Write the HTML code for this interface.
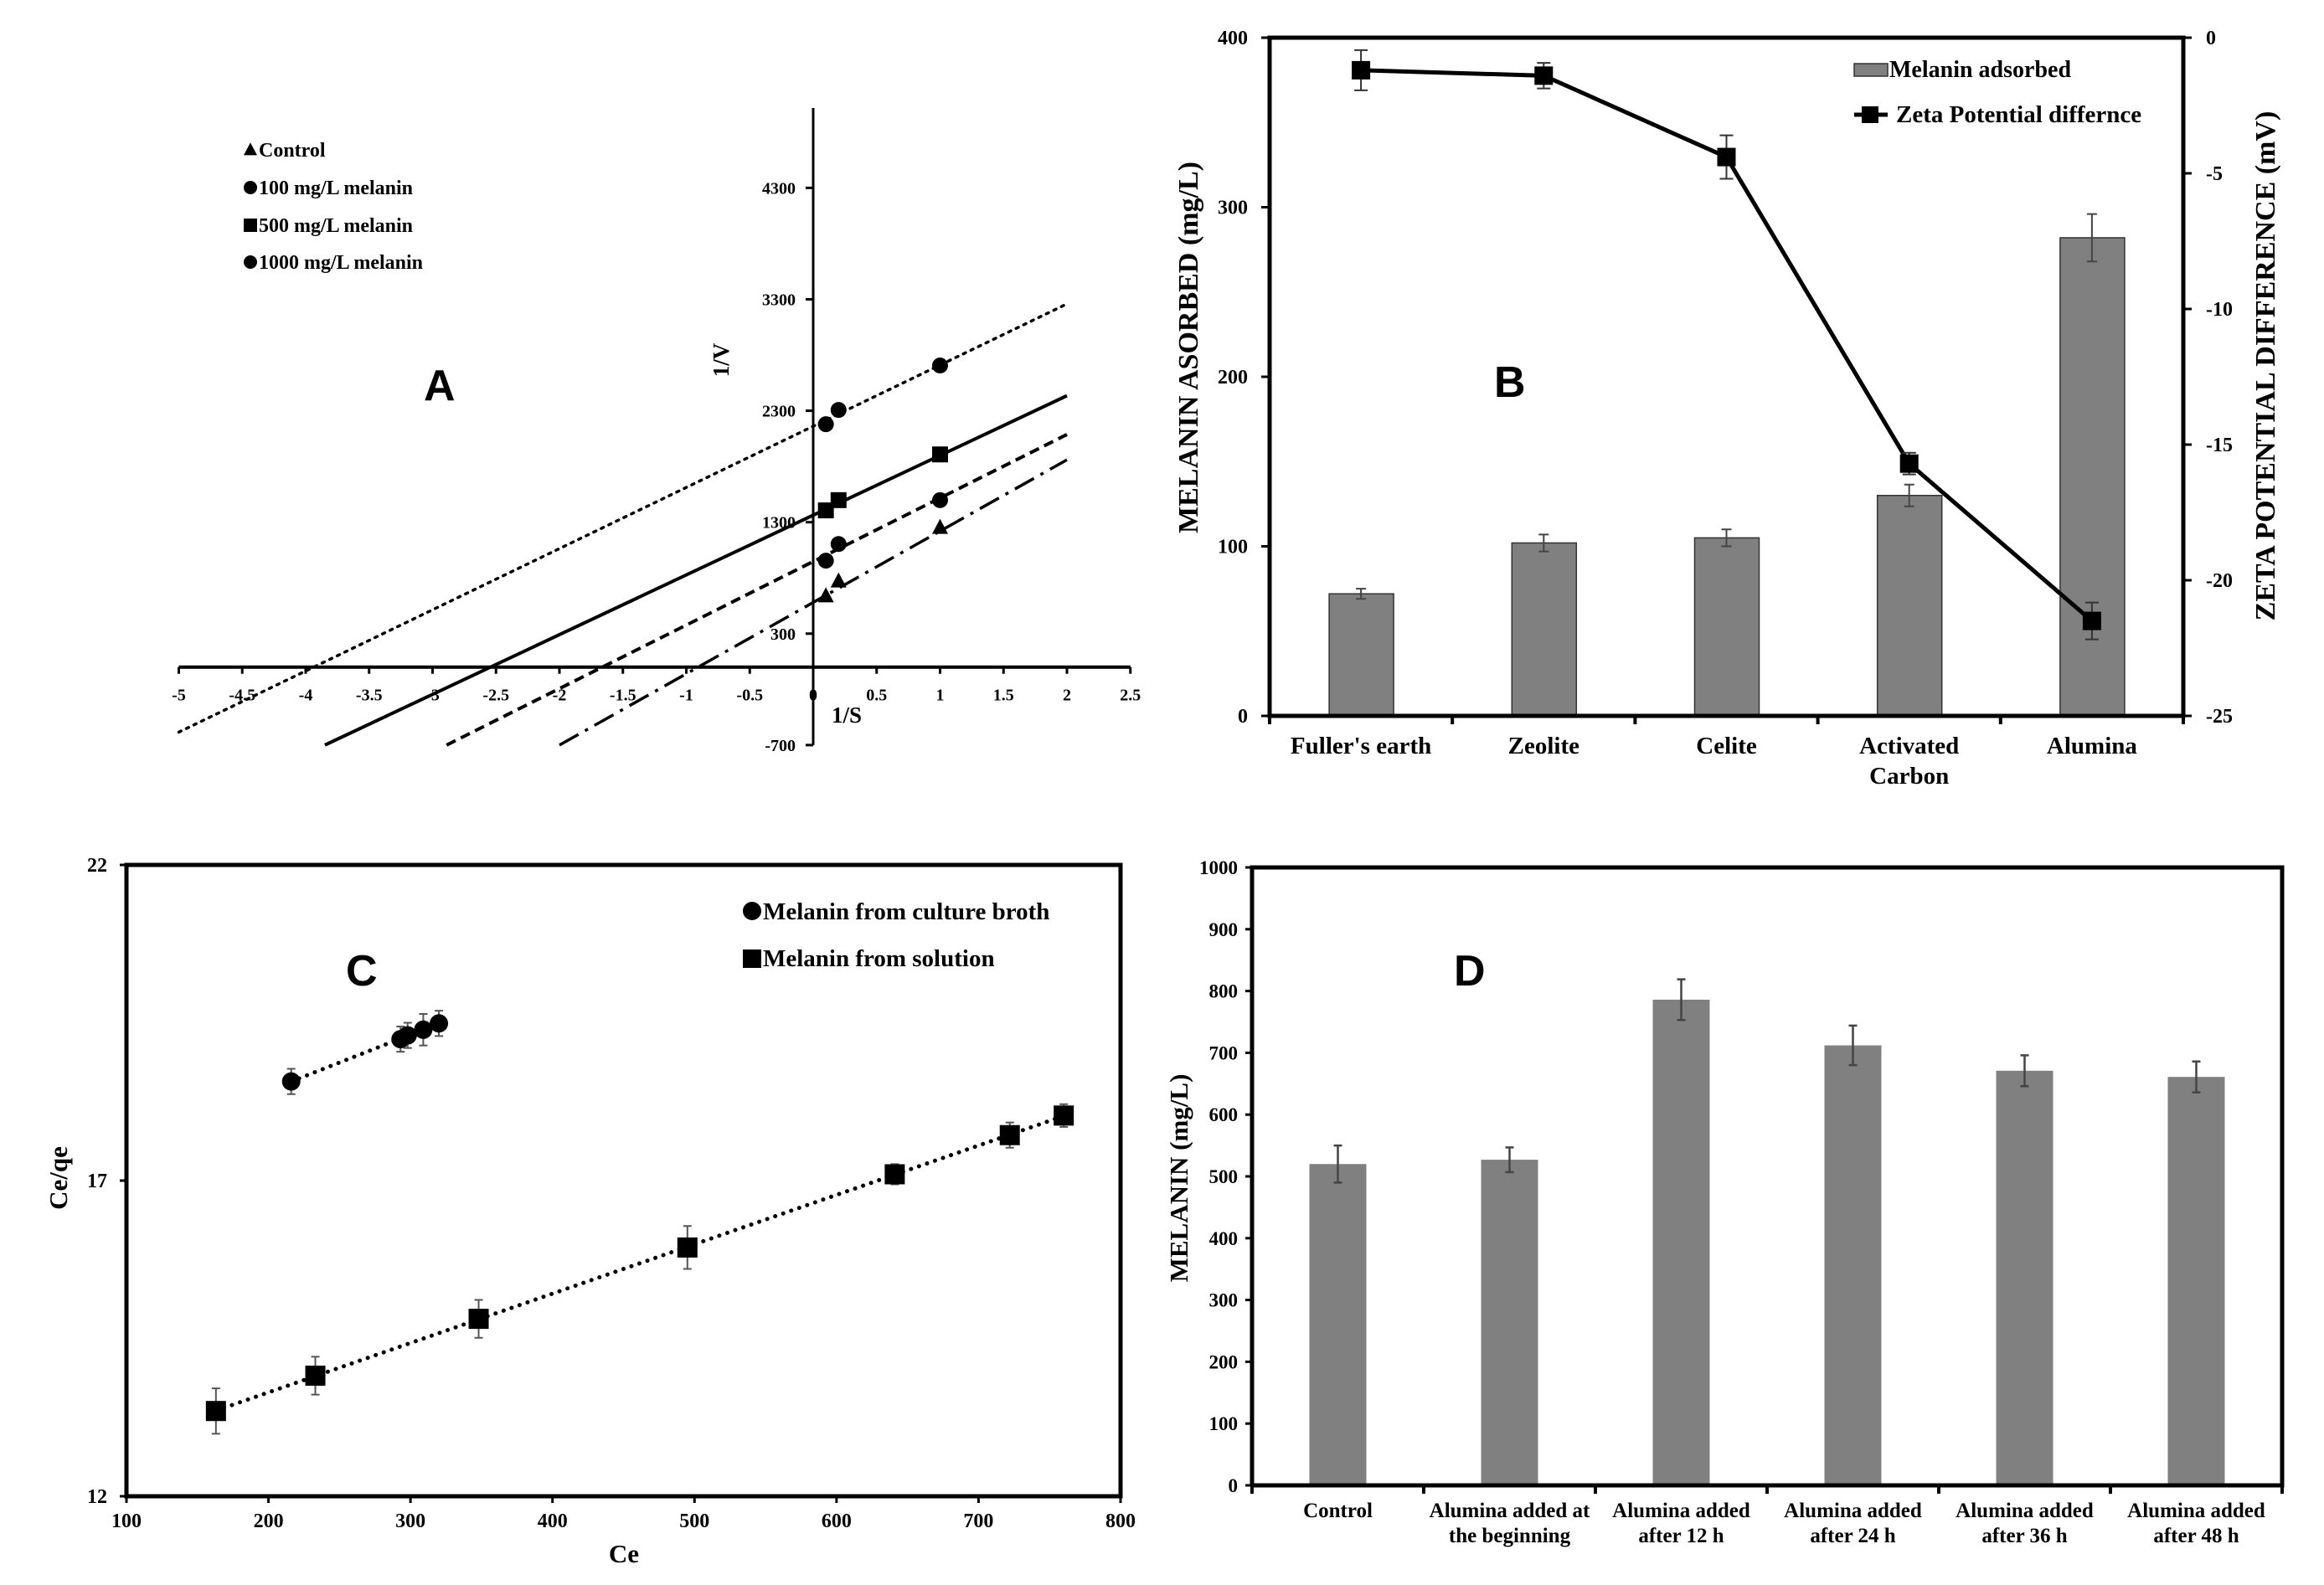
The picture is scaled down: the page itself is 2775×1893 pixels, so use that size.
<!DOCTYPE html>
<html><head><meta charset="utf-8"><style>
html,body{margin:0;padding:0;background:#fff;overflow:hidden;}
svg{display:block;}
text{font-family:"Liberation Serif",serif;font-weight:bold;fill:#000;}
.big{font-family:"Liberation Sans",sans-serif;font-weight:bold;}
</style></head><body>
<svg id="s" width="2775" height="1893" viewBox="0 0 2775 1893" xmlns="http://www.w3.org/2000/svg">
<rect width="2775" height="1893" fill="#fff"/>
<g id="pa"></g>
<g id="pb"></g>
<g id="pc"></g>
<g id="pd"></g>
</svg>
<script>
// ---------- Panel A data ----------
const aXTicks = [-5,-4.5,-4,-3.5,-3,-2.5,-2,-1.5,-1,-0.5,0,0.5,1,1.5,2,2.5];
const aYTicks = [4300,3300,2300,1300,300,-700];
const aSeriesNames = ["Control","100 mg/L melanin","500 mg/L melanin","1000 mg/L melanin"];
const aPointX = [0.1,0.2,1];
const aControl = [638,771,1252];
const a100 = [955,1104,1498];
const a500 = [1406,1498,1908];
const a1000 = [2179,2307,2706];
const aSlopes = [640,570,536,549];
const aIntercepts = [580,947,1363,2161];
// ---------- Panel B data ----------
const bCats = ["Fuller's earth","Zeolite","Celite","Activated|Carbon","Alumina"];
const bBars = [72,102,105,130,282];
const bBarErr = [3,5,5,6.4,14];
const bZeta = [-1.2,-1.4,-4.4,-15.7,-21.5];
const bZetaErr = [0.74,0.47,0.8,0.4,0.68];
const bLeftTicks = [0,100,200,300,400];
const bRightTicks = [0,-5,-10,-15,-20,-25];
// ---------- Panel C data ----------
const cBrothX = [216,293,298,309,320];
const cBrothY = [18.57,19.24,19.30,19.39,19.49];
const cBrothErr = [0.2,0.2,0.2,0.25,0.2];
const cSolX = [163,233,348,495,641,722,760];
const cSolY = [13.35,13.91,14.81,15.94,17.10,17.72,18.03];
const cSolErr = [0.36,0.3,0.3,0.34,0.16,0.2,0.18];
const cXTicks = [100,200,300,400,500,600,700,800];
const cYTicks = [12,17,22];
// ---------- Panel D data ----------
const dCats = ["Control","Alumina added at|the beginning","Alumina added|after 12 h","Alumina added|after 24 h","Alumina added|after 36 h","Alumina added|after 48 h"];
const dVals = [520,527,786,712,671,661];
const dErr = [30,20,33,32,25,25];
const dTicks = [0,100,200,300,400,500,600,700,800,900,1000];

const NS="http://www.w3.org/2000/svg";
function el(parent,tag,attrs,txt){const e=document.createElementNS(NS,tag);for(const k in attrs)e.setAttribute(k,attrs[k]);if(txt!==undefined)e.textContent=txt;parent.appendChild(e);return e;}

// ================= PANEL A =================
(function(){
const g=document.getElementById('pa');
const X=v=>971+v*151.5, Y=v=>796.7-v*0.1331;
let e;
e=el(g,'line',{x1:X(-5),y1:Y(0),x2:X(2.5),y2:Y(0),stroke:'#000','stroke-width':4});


e=el(g,'line',{x1:971,y1:129,x2:971,y2:Y(-700),stroke:'#000','stroke-width':3});


aXTicks.forEach(t=>{
 el(g,'line',{x1:X(t),y1:Y(0),x2:X(t),y2:Y(0)+8,stroke:'#000','stroke-width':3});
 e=el(g,'text',{x:X(t),y:Y(0)+40,'font-size':20,'text-anchor':'middle'},String(t));
 
 
});
aYTicks.forEach(t=>{
 el(g,'line',{x1:971,y1:Y(t),x2:962,y2:Y(t),stroke:'#000','stroke-width':3});
 e=el(g,'text',{x:950,y:Y(t)+7,'font-size':20,'text-anchor':'end'},String(t));
 
 
});
e=el(g,'text',{x:993,y:863,'font-size':27},'1/S');


e=el(g,'text',{x:0,y:0,'font-size':27,'text-anchor':'middle',transform:'translate(870,430) rotate(-90)'},'1/V');


e=el(g,'text',{x:506,y:478,'font-size':52,class:'big'},'A');


const dashes=['26,9,4,9','12,7','','3,7'];
const widths=[3.5,4,4,3.5];
const starts=[-2.0,-2.9,-3.85,-5];
for(let i=0;i<4;i++){
 let x0=starts[i];
 const y0=aSlopes[i]*x0+aIntercepts[i];
 if(y0<-700) x0=(-700-aIntercepts[i])/aSlopes[i];
 const x1=2;
 e=el(g,'line',{x1:X(x0),y1:Y(aSlopes[i]*x0+aIntercepts[i]),x2:X(x1),y2:Y(aSlopes[i]*x1+aIntercepts[i]),stroke:'#000','stroke-width':widths[i],'stroke-dasharray':dashes[i],'stroke-linecap':i==3?'round':'butt'});
 
 
}
const series=[aControl,a100,a500,a1000], shapes=['tri','circ','sq','circ'];
function marker(gg,shape,cx,cy,s){
 if(shape==='circ') return el(gg,'circle',{cx:cx,cy:cy,r:s,fill:'#000'});
 if(shape==='sq') return el(gg,'rect',{x:cx-s,y:cy-s,width:2*s,height:2*s,fill:'#000'});
 return el(gg,'polygon',{points:`${cx},${cy-s*1.1} ${cx-s},${cy+s*0.8} ${cx+s},${cy+s*0.8}`,fill:'#000'});
}
series.forEach((arr,i)=>{arr.forEach((v,j)=>{
 e=marker(g,shapes[i],X(aPointX[j]),Y(v),9.5);
 
 
});});
const ly=[179,224,269,313];
aSeriesNames.forEach((n,i)=>{
 e=marker(g,shapes[i],299,ly[i],8);
 
 
 e=el(g,'text',{x:309,y:ly[i]+8,'font-size':24},n);
 
 
});
})();

// ================= PANEL B =================
(function(){
const g=document.getElementById('pb');
const L=1516,R=2607,T=45,B=855;
const YL=v=>B-v/400*(B-T), YR=v=>T+(-v)/25*(B-T);
const n=bCats.length, cw=(R-L)/n, CX=i=>L+cw*(i+0.5);
let e;
bBars.forEach((v,i)=>{
 e=el(g,'rect',{x:CX(i)-38,y:YL(v),width:77,height:B-YL(v),fill:'#808080',stroke:'#333','stroke-width':1.5});
 
 
 const ey1=YL(v+bBarErr[i]), ey2=YL(v-bBarErr[i]);
 el(g,'path',{d:`M${CX(i)},${ey1}V${ey2}M${CX(i)-6},${ey1}H${CX(i)+6}M${CX(i)-6},${ey2}H${CX(i)+6}`,stroke:'#444','stroke-width':2,fill:'none'});
});
el(g,'rect',{x:L,y:T,width:R-L,height:B-T,fill:'none',stroke:'#000','stroke-width':5});
bLeftTicks.forEach(t=>{
 el(g,'line',{x1:L,y1:YL(t),x2:L-10,y2:YL(t),stroke:'#000','stroke-width':3});
 e=el(g,'text',{x:1490,y:YL(t)+8,'font-size':24,'text-anchor':'end'},String(t));
 
 
});
bRightTicks.forEach(t=>{
 el(g,'line',{x1:R,y1:YR(t),x2:R+10,y2:YR(t),stroke:'#000','stroke-width':3});
 e=el(g,'text',{x:2634,y:YR(t)+8,'font-size':24},String(t));
 
 
});
for(let i=0;i<=n;i++) el(g,'line',{x1:L+cw*i,y1:B,x2:L+cw*i,y2:B+10,stroke:'#000','stroke-width':4});
bCats.forEach((c,i)=>{
 const parts=c.split('|');
 parts.forEach((p,k)=>{
  e=el(g,'text',{x:CX(i),y:900+k*36,'font-size':29,'text-anchor':'middle'},p);
  
  
 });
});
let d='';
bZeta.forEach((v,i)=>{d+=(i?'L':'M')+CX(i)+','+YR(v);});
e=el(g,'path',{d:d,stroke:'#000','stroke-width':5,fill:'none'});


bZeta.forEach((v,i)=>{
 const ey1=YR(v+bZetaErr[i]), ey2=YR(v-bZetaErr[i]);
 el(g,'path',{d:`M${CX(i)},${ey1}V${ey2}M${CX(i)-8},${ey1}H${CX(i)+8}M${CX(i)-8},${ey2}H${CX(i)+8}`,stroke:'#333','stroke-width':2,fill:'none'});
 e=el(g,'rect',{x:CX(i)-11,y:YR(v)-11,width:22,height:22,fill:'#000'});
 
 
});
e=el(g,'text',{x:0,y:0,'font-size':34,'text-anchor':'middle',transform:'translate(1430,415) rotate(-90)'},'MELANIN ASORBED (mg/L)');


e=el(g,'text',{x:0,y:0,'font-size':34,'text-anchor':'middle',transform:'translate(2716,437) rotate(-90)'},'ZETA POTENTIAL DIFFERENCE  (mV)');


e=el(g,'rect',{x:2214,y:76,width:40,height:15,fill:'#808080',stroke:'#333','stroke-width':1.5});


e=el(g,'text',{x:2256,y:92,'font-size':28},'Melanin adsorbed');


el(g,'line',{x1:2214,y1:137,x2:2254,y2:137,stroke:'#000','stroke-width':5});
el(g,'rect',{x:2223,y:127,width:20,height:20,fill:'#000'});
e=el(g,'text',{x:2264,y:146,'font-size':29},'Zeta Potential differnce');


e=el(g,'text',{x:1784,y:474,'font-size':52,class:'big'},'B');


})();

// ================= PANEL C =================
(function(){
const g=document.getElementById('pc');
const L=151,R=1338,T=1033,B=1787;
const X=v=>L+(v-100)/700*(R-L), Y=v=>B-(v-12)/10*(B-T);
let e;
el(g,'rect',{x:L,y:T,width:R-L,height:B-T,fill:'none',stroke:'#000','stroke-width':5});
cXTicks.forEach(t=>{
 el(g,'line',{x1:X(t),y1:B,x2:X(t),y2:B+8,stroke:'#000','stroke-width':3});
 e=el(g,'text',{x:X(t),y:B+37,'font-size':24,'text-anchor':'middle'},String(t));
 
 
});
cYTicks.forEach(t=>{
 el(g,'line',{x1:L,y1:Y(t),x2:L-8,y2:Y(t),stroke:'#000','stroke-width':3});
 e=el(g,'text',{x:128,y:Y(t)+8,'font-size':24,'text-anchor':'end'},String(t));
 
 
});
function fit(xs,ys){const n=xs.length;const mx=xs.reduce((a,b)=>a+b)/n,my=ys.reduce((a,b)=>a+b)/n;let sxy=0,sxx=0;xs.forEach((x,i)=>{sxy+=(x-mx)*(ys[i]-my);sxx+=(x-mx)**2;});const m=sxy/sxx;return [m,my-m*mx];}
[[cBrothX,cBrothY,cBrothErr,'circ'],[cSolX,cSolY,cSolErr,'sq']].forEach((s,si)=>{
 const [xs,ys,er,sh]=s;const [m,b]=fit(xs,ys);
 const x0=Math.min(...xs),x1=Math.max(...xs);
 e=el(g,'line',{x1:X(x0),y1:Y(m*x0+b),x2:X(x1),y2:Y(m*x1+b),stroke:'#000','stroke-width':5,'stroke-dasharray':'0.1,10','stroke-linecap':'round'});
 
 
 xs.forEach((x,i)=>{
  const cx=X(x),y1=Y(ys[i]+er[i]),y2=Y(ys[i]-er[i]);
  el(g,'path',{d:`M${cx},${y1}V${y2}M${cx-5},${y1}H${cx+5}M${cx-5},${y2}H${cx+5}`,stroke:'#555','stroke-width':2,fill:'none'});
  if(sh==='circ') e=el(g,'circle',{cx:cx,cy:Y(ys[i]),r:11,fill:'#000'});
  else e=el(g,'rect',{x:cx-12,y:Y(ys[i])-12,width:24,height:24,fill:'#000'});
  
  
 });
});
e=el(g,'text',{x:745,y:1866,'font-size':31,'text-anchor':'middle'},'Ce');


e=el(g,'text',{x:0,y:0,'font-size':31,'text-anchor':'middle',transform:'translate(80,1407) rotate(-90)'},'Ce/qe');


el(g,'circle',{cx:898,cy:1088,r:11,fill:'#000'});
e=el(g,'text',{x:911,y:1098,'font-size':29},'Melanin from culture broth');


el(g,'rect',{x:887,y:1134,width:22,height:22,fill:'#000'});
e=el(g,'text',{x:911,y:1154,'font-size':29},'Melanin from solution');


e=el(g,'text',{x:413,y:1177,'font-size':52,class:'big'},'C');


})();

// ================= PANEL D =================
(function(){
const g=document.getElementById('pd');
const L=1495,R=2725,T=1036,B=1774;
const Y=v=>B-v/1000*(B-T);
const n=dCats.length, cw=(R-L)/n, CX=i=>L+cw*(i+0.5);
let e;
dVals.forEach((v,i)=>{
 e=el(g,'rect',{x:CX(i)-34,y:Y(v),width:68,height:B-Y(v),fill:'#808080'});
 
 
 const y1=Y(v+dErr[i]),y2=Y(v-dErr[i]);
 el(g,'path',{d:`M${CX(i)},${y1}V${y2}M${CX(i)-5},${y1}H${CX(i)+5}M${CX(i)-5},${y2}H${CX(i)+5}`,stroke:'#444','stroke-width':2.5,fill:'none'});
});
el(g,'path',{d:`M${L},${B}V${T}H${R}V${B}H${L}`,stroke:'#000','stroke-width':5,fill:'none'});
dTicks.forEach(t=>{
 el(g,'line',{x1:L,y1:Y(t),x2:L-8,y2:Y(t),stroke:'#000','stroke-width':3});
 e=el(g,'text',{x:1478,y:Y(t)+8,'font-size':23,'text-anchor':'end'},String(t));
 
 
});
for(let i=0;i<=n;i++) el(g,'line',{x1:L+cw*i,y1:B,x2:L+cw*i,y2:B+10,stroke:'#000','stroke-width':4});
dCats.forEach((c,i)=>{
 c.split('|').forEach((p,k)=>{
  e=el(g,'text',{x:CX(i),y:1812+k*30,'font-size':25,'text-anchor':'middle'},p);
  
  
 });
});
e=el(g,'text',{x:0,y:0,'font-size':31,'text-anchor':'middle',transform:'translate(1418,1407) rotate(-90)'},'MELANIN  (mg/L)');


e=el(g,'text',{x:1736,y:1177,'font-size':52,class:'big'},'D');


})();
</script>
</body></html>
